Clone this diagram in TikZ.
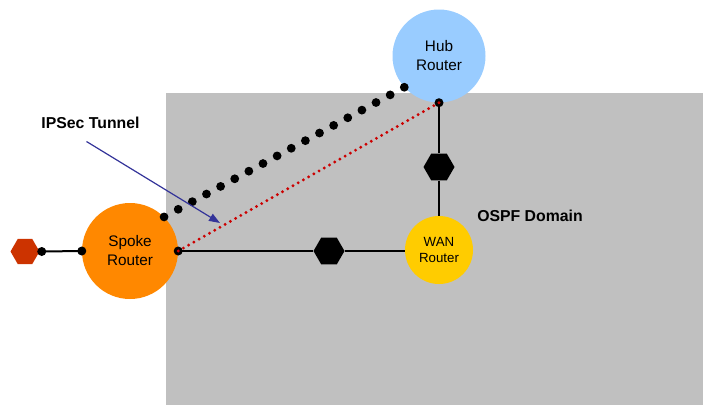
\documentclass[tikz,border=0pt]{standalone}
\usepackage{fontspec}
\setmainfont{Liberation Sans}
\usetikzlibrary{shapes.geometric,arrows.meta,calc}
\definecolor{domaingray}{HTML}{C0C0C0}
\definecolor{hubblue}{HTML}{99CCFF}
\definecolor{spokeorange}{HTML}{FF8800}
\definecolor{wanyellow}{HTML}{FFCC00}
\definecolor{edgered}{HTML}{CC3300}
\definecolor{tunnelred}{HTML}{CC0000}
\definecolor{pointerblue}{HTML}{333399}
\begin{document}
\begin{tikzpicture}[x=1pt,y=-1pt,
  router/.style={circle,draw=none,inner sep=0pt,align=center,font=\fontsize{15.3}{19}\selectfont},
  hexnode/.style={regular polygon,regular polygon sides=6,minimum size=31pt,inner sep=0pt,fill=black,draw=none},
  link/.style={line width=2pt,black},
  joint/.style={fill=black},
  caption/.style={font=\bfseries\fontsize{15.8}{19}\selectfont,inner sep=0pt}]
\useasboundingbox (0,0) rectangle (703,405);

% OSPF domain area
\fill[domaingray] (166,93) rectangle (703,405);

% routers
\node[router,fill=hubblue,minimum size=93pt] (hub) at (439,56) {Hub\\Router};
\node[router,fill=spokeorange,minimum size=96pt] (spoke) at (130,251) {Spoke\\Router};
\node[router,fill=wanyellow,minimum size=68pt,font=\fontsize{13.3}{16.7}\selectfont] (wan) at (439,250) {WAN\\Router};

% links with intermediate hops
\node[hexnode] (vhex) at (439,167) {};
\node[hexnode] (hhex) at (329,251) {};
\node[hexnode,fill=edgered,minimum size=29pt] (term) at (25,251.5) {};
\coordinate (termjoint) at ($(term.east)+(2,0)$);

\draw[link] (hub.south) -- (vhex);
\draw[link] (vhex) -- (wan.north);
\draw[link] (spoke.east) -- (hhex);
\draw[link] (hhex.east) -- (hhex.east -| wan.west);
\draw[link] (termjoint) -- (spoke.west);

% link end points
\fill[joint] (termjoint) circle (4.5pt);
\fill[joint] (spoke.west) circle (4.5pt);
\fill[joint] (spoke.east) circle (4.5pt);
\fill[joint] (hub.south) circle (4.5pt);

% IPSec tunnel (outer, heavy dots)
\foreach \i in {0,...,17}
  \fill[black] ($(spoke.45)!\i/17!(hub.222)$) circle (4.4pt);

% routed path (fine red dots)
\foreach \i in {0,...,50}
  \fill[tunnelred] ($(spoke.east)!\i/50!(hub.south)$) circle (1.6pt);

% labels
\node[caption] (ipsec) at (90.5,123) {IPSec Tunnel};
\node[caption] (ospf) at (530,216) {OSPF Domain};

\coordinate (ptail) at (86.5,141.5);
\coordinate (ptip) at (220,223);
\draw[pointerblue,line width=1.2pt,-{Triangle[length=11pt,width=8pt]}] (ptail) -- (ptip);
\end{tikzpicture}
\end{document}
